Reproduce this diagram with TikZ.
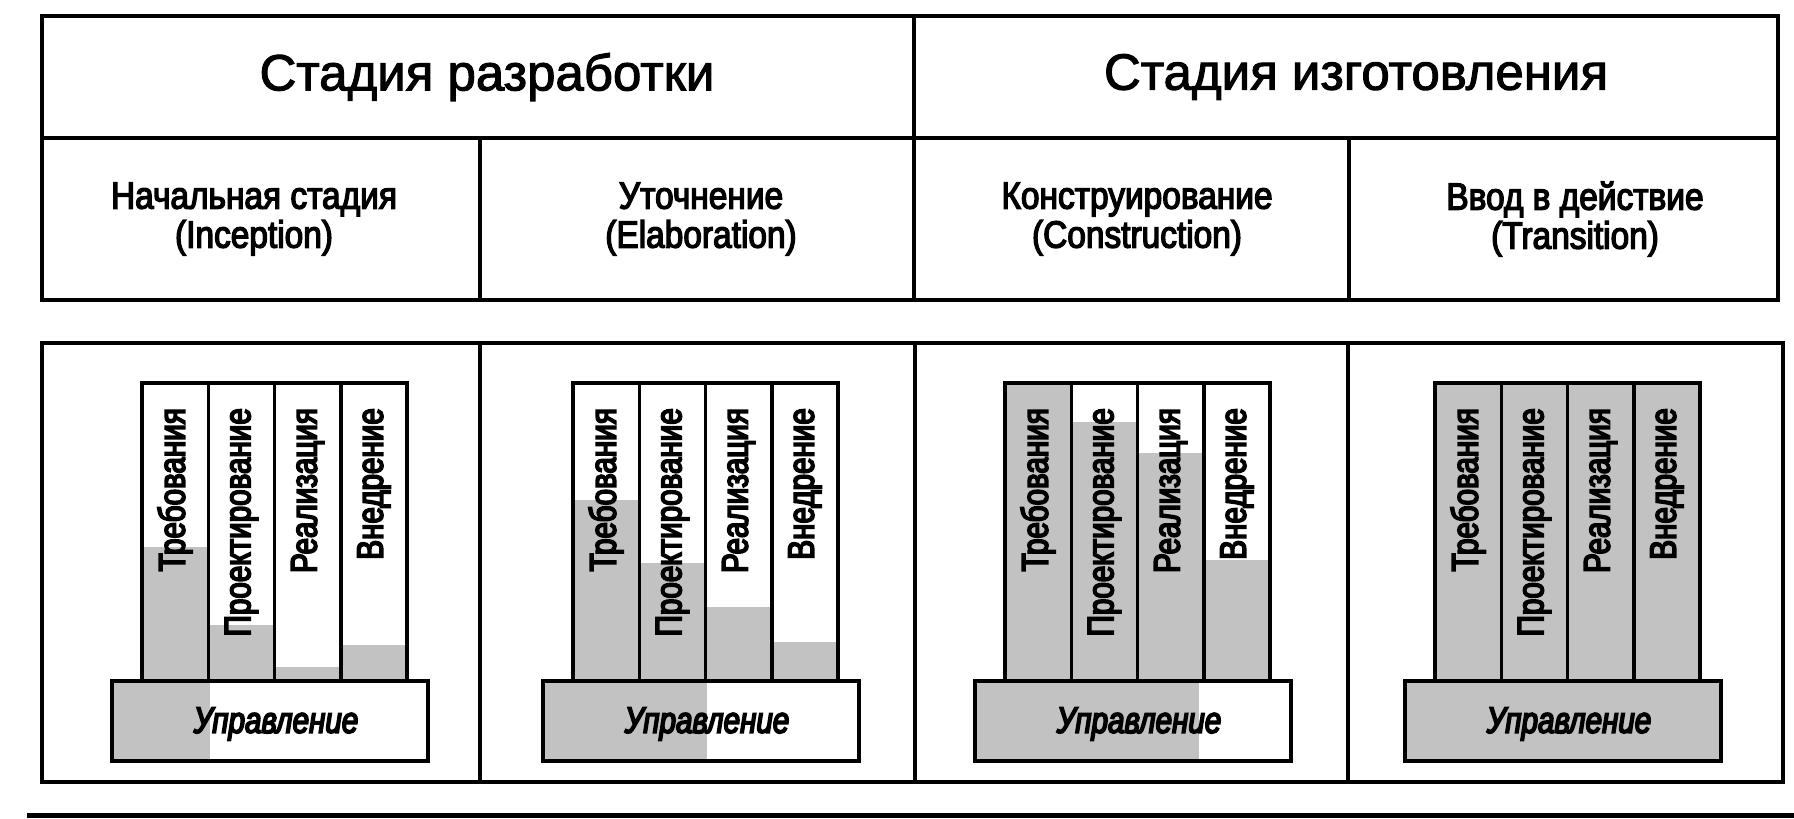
\documentclass[tikz,border=0pt]{standalone}
\usepackage{fontspec}
\setmainfont{Liberation Sans}
\newfontfamily\titlefont[FakeBold=2]{Liberation Sans}
\newfontfamily\subfont[FakeStretch=0.88,FakeBold=3.5]{Liberation Sans}
\newfontfamily\narrowfont[FakeStretch=0.8,FakeBold=4.5]{Liberation Sans}
\definecolor{shadegray}{gray}{0.76}
\begin{document}
\begin{tikzpicture}[x=1pt,y=-1pt,
  frame/.style={draw=black,line width=3.5pt},
  shadefill/.style={fill=shadegray},
  titletext/.style={inner sep=0pt,font=\titlefont\fontsize{51}{60}\selectfont},
  subtext/.style={inner sep=0pt,align=center,font=\subfont\fontsize{38}{39}\selectfont},
  coltext/.style={inner sep=0pt,rotate=90,anchor=east,font=\narrowfont\fontsize{37}{40}\selectfont},
  mgmttext/.style={inner sep=0pt,font=\narrowfont\itshape\fontsize{37}{40}\selectfont}]
\useasboundingbox (0,0) rectangle (1794,819);
% ---------- header table ----------
\draw[frame] (42,16) rectangle (1778,300);
\draw[frame] (42,138) -- (1778,138);
\draw[frame] (914,16) -- (914,300);
\draw[frame] (480,138) -- (480,300);
\draw[frame] (1349,138) -- (1349,300);
\node[titletext] (dev) at (487,77) {Стадия разработки};
\node[titletext] (mfg) at (1356,77) {Стадия изготовления};
\node[subtext] (inc) at (254,219) {Начальная стадия\\(Inception)};
\node[subtext] (ela) at (701,219) {Уточнение\\(Elaboration)};
\node[subtext] (con) at (1137,219) {Конструирование\\(Construction)};
\node[subtext] (tra) at (1575,219) {Ввод в действие\\(Transition)};
% ---------- lower panels ----------
\draw[frame] (42,343) rectangle (1783,782);
\foreach \vx in {480,915,1348} \draw[frame] (\vx,343) -- (\vx,782);
\foreach \px/\a/\b/\c/\d/\m [count=\i] in
  {142/547/625/667/645/0.31,
   573/500/563/607/642/0.52,
   1005/383/422/453/560/0.71,
   1435/383/383/383/383/1.0}{
  % shading of the workflows
  \fill[shadefill] (\px,\a) rectangle ({\px+66.25},681);
  \fill[shadefill] ({\px+66.25},\b) rectangle ({\px+132.5},681);
  \fill[shadefill] ({\px+132.5},\c) rectangle ({\px+198.75},681);
  \fill[shadefill] ({\px+198.75},\d) rectangle ({\px+265},681);
  \fill[shadefill] ({\px-30},681) rectangle ({\px-30+316*\m},761);
  % borders
  \draw[frame] (\px,383) rectangle ({\px+265},681);
  \foreach \k in {1,2,3} \draw[frame] ({\px+66.25*\k},383) -- ({\px+66.25*\k},681);
  \draw[frame] ({\px-30},681) rectangle ({\px+286},761);
  % labels
  \node[coltext] (req\i) at ({\px+33},408) {Требования};
  \node[coltext] (des\i) at ({\px+99.4},408) {Проектирование};
  \node[coltext] (imp\i) at ({\px+165.6},408) {Реализация};
  \node[coltext] (dep\i) at ({\px+231.9},408) {Внедрение};
  \node[mgmttext] (mgt\i) at ({\px+134},724) {Управление};
}
% ---------- bottom rule ----------
\draw[line width=5pt] (27,815) -- (1794,815);
\end{tikzpicture}
\end{document}
